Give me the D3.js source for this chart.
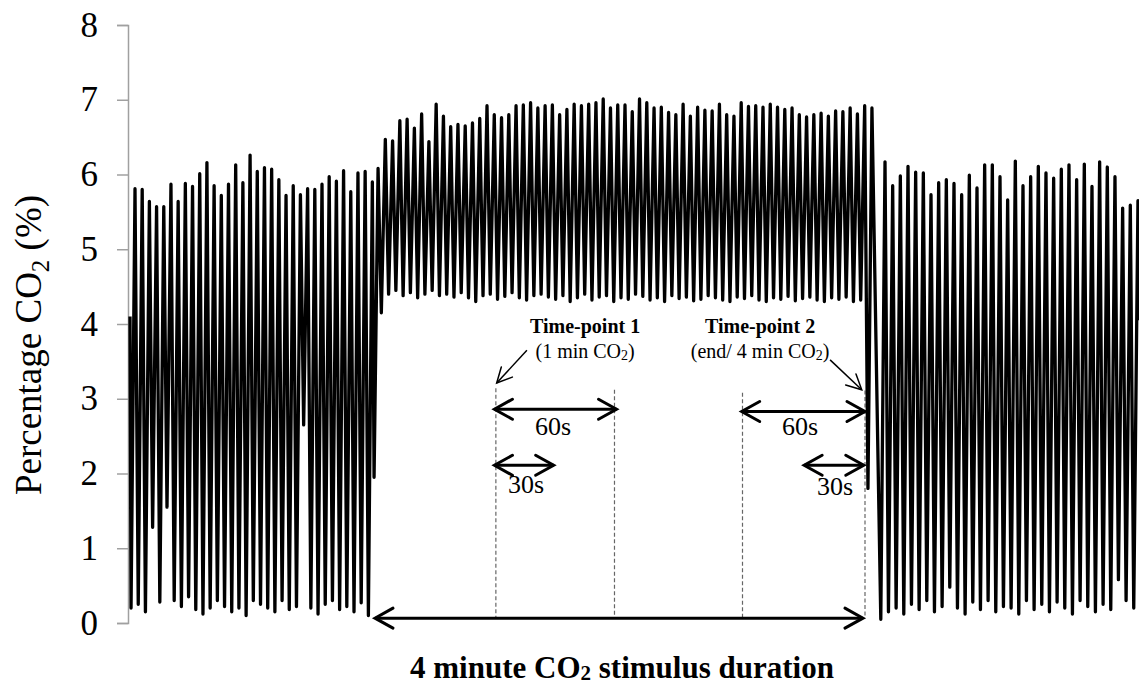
<!DOCTYPE html>
<html>
<head>
<meta charset="utf-8">
<script src="https://cdn.jsdelivr.net/npm/d3@7"></script>
<style>
body { margin: 0; background: #fff; }
text { font-family: "Liberation Serif", "Times New Roman", serif; fill: #000; }
</style>
</head>
<body>
<div id="chart"></div>
<script>
// breath-by-breath peaks and troughs (% CO2)
var baselinePeaks1 = [5.81, 5.80, 5.64, 5.57, 5.57, 5.87, 5.64, 5.88, 5.84, 6.01, 6.16, 5.85, 5.72, 5.87,
  6.13, 5.89, 6.26, 6.04, 6.09, 6.07, 5.93, 5.72, 5.85, 5.73, 5.81, 5.80, 5.87, 5.97, 5.91, 6.05,
  5.77, 6.02, 6.04, 5.90];
var baselineTroughs1 = [0.20, 0.25, 0.15, 1.28, 0.28, 1.55, 0.30, 0.22, 0.35, 0.18, 0.12, 0.20, 0.30, 0.22,
  0.15, 0.20, 0.10, 0.30, 0.25, 0.20, 0.15, 0.30, 0.18, 0.22, 2.65, 0.20, 0.12, 0.25, 0.30, 0.18,
  0.22, 0.15, 0.27, 0.10];
var stimPeaks = [6.08, 6.47, 6.45, 6.72, 6.74, 6.62, 6.81, 6.44, 6.94, 6.78, 6.64, 6.67, 6.65, 6.69,
  6.75, 6.92, 6.80, 6.76, 6.80, 6.92, 6.93, 6.96, 6.89,
  6.92, 6.93, 6.80, 6.87, 6.94, 6.92, 6.94, 6.96, 7.01, 6.89, 6.93, 6.93, 6.84, 7.01, 6.96, 6.89,
  6.90, 6.83, 6.80, 6.94, 6.78, 6.90, 6.86,
  6.85, 6.94, 6.80, 6.78, 6.96, 6.91, 6.92, 6.90, 6.94, 6.90, 6.87, 6.89, 6.80, 6.77, 6.80, 6.82,
  6.78, 6.85, 6.84, 6.89, 6.81, 6.92, 6.89];
var stimTroughs = [1.95, 4.15, 4.40, 4.45, 4.38, 4.42, 4.35, 4.40, 4.45, 4.38, 4.40, 4.36, 4.42, 4.35,
  4.30, 4.38, 4.40, 4.33, 4.37, 4.42, 4.35, 4.32, 4.38,
  4.40, 4.36, 4.33, 4.38, 4.30, 4.35, 4.40, 4.32, 4.36, 4.38, 4.30, 4.35, 4.33, 4.40, 4.37, 4.32,
  4.35, 4.30, 4.38, 4.34, 4.36, 4.31, 4.33,
  4.38, 4.35, 4.32, 4.30, 4.36, 4.34, 4.38, 4.32, 4.30, 4.35, 4.33, 4.37, 4.31, 4.34, 4.36, 4.32,
  4.30, 4.35, 4.33, 4.36, 4.30, 4.32, 1.80];
var baselinePeaks2 = [6.17, 5.85, 5.98, 6.11, 6.03, 6.02, 5.73, 5.89, 5.93, 5.88, 5.73, 5.99, 5.82, 6.13,
  6.13, 5.97, 5.66, 6.18, 5.85, 5.97, 6.11, 6.02, 5.95, 6.07, 6.13, 5.93, 6.14, 5.84, 6.17, 6.10,
  5.97, 5.55, 5.59, 5.65];
var baselineTroughs2 = [0.05, 0.15, 0.20, 0.12, 0.25, 0.18, 0.30, 0.15, 0.22, 0.48, 0.20, 0.12, 0.28, 0.18,
  0.30, 0.15, 0.22, 0.20, 0.12, 0.30, 0.18, 0.25, 0.15, 0.28, 0.20, 0.12, 0.30, 0.22, 0.15, 0.25,
  0.18, 0.58, 0.30, 0.20];
// first / last peak time of each phase (s)
var phaseSpans = [[2.45, 118.7], [121.5, 363.4], [369.8, 493.7]];
var traceStart = 4.1, traceEnd = 4.05, endTime = 494.2;

var yTicks = [0, 1, 2, 3, 4, 5, 6, 7, 8];

// annotation times (s) and levels (%)
var markerTimes = [179.2, 237.3, 300, 360];
var markerTops = [3.14, 3.12, 3.08, 3.11];
var spanArrows = [
  {t0: 120, t1: 359, v: 0.065},
  {t0: 178.5, t1: 238.3, v: 2.86},
  {t0: 178.5, t1: 207.5, v: 2.11},
  {t0: 299.6, t1: 360, v: 2.83},
  {t0: 330.2, t1: 359.4, v: 2.11}
];
var spanLabels = [
  {t: 207.2, v: 2.515, text: "60s"},
  {t: 194, v: 1.74, text: "30s"},
  {t: 328.2, v: 2.515, text: "60s"},
  {t: 345.3, v: 1.71, text: "30s"}
];
var pointers = [
  {t0: 194.4, v0: 3.65, t1: 179.6, v1: 3.21},
  {t0: 342.9, v0: 3.52, t1: 358.4, v1: 3.12}
];

var W = 1139, H = 684;
var svg = d3.select("#chart").append("svg")
    .attr("width", W)
    .attr("height", H);

var x = d3.scaleLinear().domain([0, 240]).range([130, 620]);
var y = d3.scaleLinear().domain([0, 8]).range([623, 25]);

// y axis
var yAxis = d3.axisLeft(y).tickValues(yTicks).tickSize(11).tickPadding(19).tickFormat(d3.format("d"));
var ga = svg.append("g")
    .attr("transform", "translate(128,0)")
    .call(yAxis);
ga.select(".domain").attr("stroke", "#a0a0a0").attr("stroke-width", 1.5);
ga.selectAll(".tick line").attr("stroke", "#a0a0a0").attr("stroke-width", 1.5);
ga.selectAll(".tick text")
    .attr("font-family", "Liberation Serif")
    .attr("font-size", 35)
    .attr("fill", "#000");

// y label
var yl = svg.append("text")
    .attr("transform", "translate(41,345) rotate(-90)")
    .attr("text-anchor", "middle")
    .attr("font-size", 37);
yl.append("tspan").text("Percentage CO");
yl.append("tspan").text("2").attr("font-size", 25).attr("dy", 8);
yl.append("tspan").text(" (%)").attr("dy", -8);

// build the trace
var phases = [
  {peaks: baselinePeaks1, troughs: baselineTroughs1, span: phaseSpans[0]},
  {peaks: stimPeaks, troughs: stimTroughs, span: phaseSpans[1]},
  {peaks: baselinePeaks2, troughs: baselineTroughs2, span: phaseSpans[2]}
];
var trace = [{t: 0, v: traceStart}];
phases.forEach(function(p) {
  var step = (p.span[1] - p.span[0]) / (p.peaks.length - 1);
  p.peaks.forEach(function(pk, i) {
    var tp = p.span[0] + i * step;
    trace.push({t: tp - 0.55 * step, v: p.troughs[i]});
    trace.push({t: tp, v: pk});
  });
});
trace.push({t: endTime, v: traceEnd});

// dashed markers (under the trace)
svg.selectAll(".marker")
    .data(markerTimes)
    .enter().append("line")
    .attr("class", "marker")
    .attr("x1", function(d) { return x(d); })
    .attr("x2", function(d) { return x(d); })
    .attr("y1", function(d, i) { return y(markerTops[i]); })
    .attr("y2", y(0.065))
    .attr("stroke", "#666")
    .attr("stroke-width", 1.2)
    .attr("stroke-dasharray", "4,2.5");

svg.append("path")
    .datum(trace)
    .attr("fill", "none")
    .attr("stroke", "#000")
    .attr("stroke-width", 3.3)
    .attr("stroke-linejoin", "round")
    .attr("d", d3.line()
      .x(function(d) { return x(d.t); })
      .y(function(d) { return y(d.v); }));

// arrows
function head(g, tx, ty, ang, len, hw, sw) {
  var c = Math.cos(ang), s = Math.sin(ang);
  var bx = tx - len * c, by = ty - len * s;
  g.append("path")
    .attr("d", "M" + (bx - hw * s) + "," + (by + hw * c) + "L" + tx + "," + ty + "L" + (bx + hw * s) + "," + (by - hw * c))
    .attr("fill", "none")
    .attr("stroke", "#000")
    .attr("stroke-width", sw)
    .attr("stroke-linecap", "round")
    .attr("stroke-linejoin", "miter");
}

var ag = svg.append("g");
spanArrows.forEach(function(a) {
  var x0 = x(a.t0), x1 = x(a.t1), yy = y(a.v);
  ag.append("line")
    .attr("x1", x0).attr("x2", x1).attr("y1", yy).attr("y2", yy)
    .attr("stroke", "#000").attr("stroke-width", 3);
  head(ag, x0, yy, Math.PI, 18, 10, 3);
  head(ag, x1, yy, 0, 18, 10, 3);
});
pointers.forEach(function(p) {
  var x0 = x(p.t0), y0 = y(p.v0), x1 = x(p.t1), y1 = y(p.v1);
  ag.append("line")
    .attr("x1", x0).attr("y1", y0).attr("x2", x1).attr("y2", y1)
    .attr("stroke", "#000").attr("stroke-width", 1.5);
  head(ag, x1, y1, Math.atan2(y1 - y0, x1 - x0), 15, 7.5, 1.5);
});

svg.selectAll(".span-label")
    .data(spanLabels)
    .enter().append("text")
    .attr("class", "span-label")
    .attr("x", function(d) { return x(d.t); })
    .attr("y", function(d) { return y(d.v); })
    .attr("text-anchor", "middle")
    .attr("font-size", 26)
    .text(function(d) { return d.text; });

// time-point captions
function co2Text(sel, before, after, sub) {
  sel.append("tspan").text(before);
  sel.append("tspan").text("2").attr("font-size", sub).attr("dy", 2);
  sel.append("tspan").text(after).attr("dy", -2);
}
[[222.9, "Time-point 1", "(1 min CO", ")"], [308.6, "Time-point 2", "(end/ 4 min CO", ")"]].forEach(function(c) {
  svg.append("text")
    .attr("x", x(c[0])).attr("y", y(3.88))
    .attr("text-anchor", "middle")
    .attr("font-size", 20).attr("font-weight", "bold")
    .text(c[1]);
  var t = svg.append("text")
    .attr("x", x(c[0])).attr("y", y(3.545))
    .attr("text-anchor", "middle")
    .attr("font-size", 20);
  co2Text(t, c[2], c[3], 14);
});

// bottom caption
var cap = svg.append("text")
    .attr("x", 622).attr("y", 678)
    .attr("text-anchor", "middle")
    .attr("font-size", 31).attr("font-weight", "bold");
co2Text(cap, "4 minute CO", " stimulus duration", 21);
</script>
</body>
</html>
